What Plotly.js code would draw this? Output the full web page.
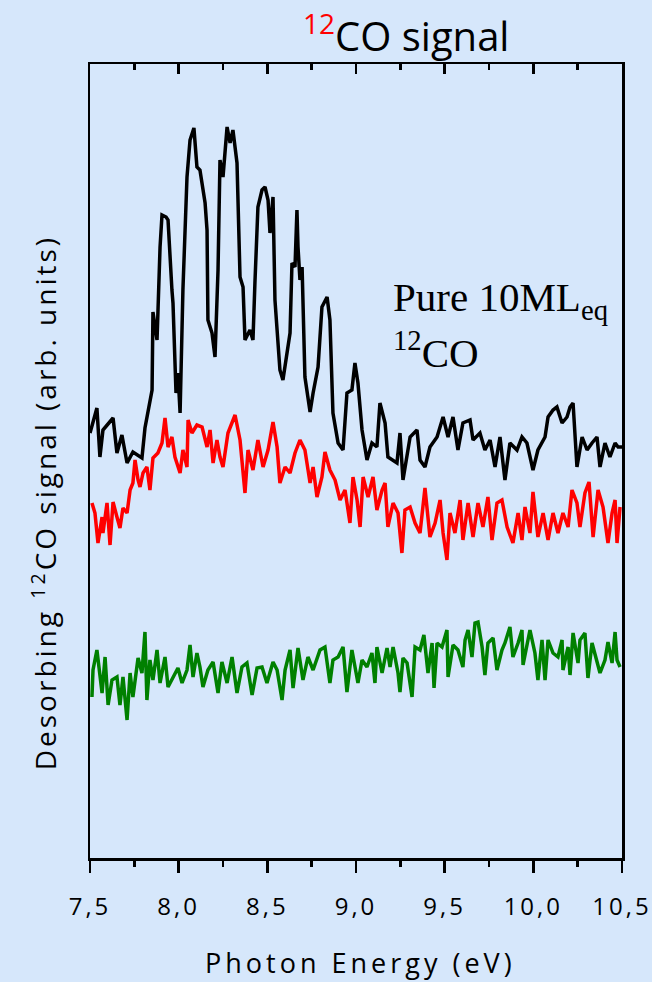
<!DOCTYPE html>
<html>
<head>
<meta charset="utf-8">
<script src="https://cdn.plot.ly/plotly-3.0.1.min.js"></script>
<style>
html,body{margin:0;padding:0;background:#d6e7fb;}
#chart{width:652px;height:982px;}
</style>
</head>
<body>
<div id="chart"></div>
<script>
// Photon energy (eV) and desorbing 12CO signal (arb. units)
const pureX = [7.500,7.539,7.556,7.573,7.630,7.652,7.680,7.709,7.742,7.793,7.810,7.850,7.855,7.878,7.895,7.906,7.929,7.940,7.962,7.968,7.985,7.996,8.008,8.024,8.047,8.064,8.086,8.103,8.120,8.149,8.160,8.165,8.188,8.205,8.222,8.233,8.250,8.273,8.290,8.306,8.329,8.335,8.346,8.363,8.374,8.402,8.419,8.430,8.447,8.470,8.487,8.504,8.515,8.532,8.543,8.555,8.571,8.588,8.611,8.628,8.639,8.656,8.667,8.673,8.684,8.696,8.712,8.741,8.758,8.786,8.808,8.837,8.853,8.870,8.899,8.927,8.949,8.977,8.994,9.011,9.034,9.062,9.090,9.118,9.135,9.164,9.180,9.231,9.248,9.265,9.305,9.344,9.361,9.389,9.417,9.457,9.491,9.519,9.547,9.575,9.603,9.643,9.660,9.699,9.727,9.756,9.784,9.812,9.840,9.868,9.908,9.936,9.964,9.998,10.026,10.066,10.083,10.111,10.133,10.162,10.190,10.207,10.224,10.246,10.275,10.303,10.331,10.359,10.376,10.404,10.432,10.461,10.478,10.500];
const pureY = [4.25,4.50,4.01,4.28,4.40,4.05,4.23,3.95,4.06,4.00,4.30,4.68,5.46,5.18,6.11,6.43,6.41,6.38,5.68,5.55,4.65,4.85,4.45,5.68,6.81,7.18,7.30,6.91,6.88,6.55,6.28,5.38,5.25,5.01,5.88,6.98,6.81,7.31,7.15,7.28,6.95,6.58,5.81,5.71,5.18,5.28,5.18,5.75,6.51,6.68,6.71,6.58,6.25,6.61,5.58,5.28,4.88,4.78,5.08,5.25,5.95,5.91,6.48,6.11,5.78,5.91,4.81,4.46,4.65,4.91,5.51,5.61,5.38,4.45,4.15,4.08,4.65,4.68,4.95,4.75,4.28,3.98,4.15,4.11,4.55,4.35,4.01,3.95,4.25,3.78,4.21,4.28,3.98,3.91,4.11,4.21,4.41,4.21,4.41,4.08,4.35,4.38,4.18,4.25,4.08,4.18,3.91,4.21,3.78,4.15,4.08,4.21,4.15,3.88,4.08,4.21,4.41,4.48,4.51,4.35,4.41,4.51,4.55,3.91,4.21,4.08,4.15,4.21,3.91,4.15,4.01,4.15,4.11,4.11];

const redX = [7.511,7.528,7.545,7.568,7.573,7.596,7.613,7.630,7.652,7.669,7.686,7.709,7.726,7.742,7.754,7.771,7.782,7.799,7.821,7.838,7.855,7.883,7.906,7.923,7.940,7.962,7.979,8.008,8.024,8.047,8.053,8.075,8.103,8.132,8.160,8.177,8.194,8.216,8.233,8.250,8.278,8.318,8.346,8.374,8.391,8.419,8.447,8.476,8.504,8.532,8.555,8.571,8.600,8.628,8.656,8.684,8.712,8.741,8.758,8.780,8.808,8.825,8.853,8.882,8.910,8.938,8.966,8.983,9.006,9.023,9.040,9.068,9.096,9.118,9.147,9.164,9.180,9.209,9.237,9.259,9.276,9.305,9.333,9.361,9.389,9.417,9.446,9.474,9.491,9.513,9.530,9.558,9.587,9.603,9.632,9.660,9.688,9.716,9.744,9.767,9.795,9.823,9.852,9.885,9.914,9.936,9.953,9.981,9.998,10.026,10.055,10.083,10.111,10.139,10.167,10.196,10.218,10.246,10.263,10.291,10.314,10.337,10.365,10.393,10.421,10.444,10.461,10.472,10.489];
const redY = [3.55,3.45,3.15,3.41,3.25,3.55,3.13,3.56,3.41,3.30,3.50,3.45,3.68,3.75,3.98,3.78,3.71,3.85,3.91,3.68,4.00,4.05,4.15,4.40,4.11,4.21,4.01,3.85,4.08,3.91,4.38,4.25,4.33,4.31,4.11,4.28,3.95,4.18,4.01,3.91,4.25,4.43,4.18,3.65,4.08,3.88,4.18,3.91,4.08,4.36,4.11,3.75,3.91,3.85,4.05,4.18,4.08,3.75,3.91,3.61,3.81,4.06,3.88,3.78,3.58,3.68,3.35,3.81,3.58,3.31,3.81,3.61,3.81,3.48,3.68,3.75,3.31,3.55,3.45,3.05,3.48,3.51,3.35,3.25,3.70,3.21,3.35,3.58,3.25,2.98,3.45,3.25,3.58,3.18,3.55,3.21,3.55,3.31,3.61,3.18,3.55,3.58,3.31,3.15,3.45,3.18,3.51,3.25,3.66,3.21,3.45,3.18,3.45,3.25,3.45,3.31,3.68,3.55,3.31,3.65,3.76,3.21,3.68,3.51,3.15,3.45,3.58,3.15,3.51];

const greenX = [7.511,7.517,7.539,7.556,7.568,7.585,7.602,7.624,7.652,7.669,7.686,7.709,7.726,7.742,7.771,7.793,7.810,7.821,7.838,7.855,7.878,7.895,7.923,7.940,7.968,7.996,8.019,8.047,8.064,8.081,8.103,8.120,8.137,8.165,8.194,8.222,8.244,8.273,8.301,8.329,8.357,8.385,8.414,8.442,8.470,8.498,8.532,8.555,8.583,8.600,8.628,8.645,8.673,8.701,8.729,8.758,8.797,8.825,8.853,8.870,8.899,8.927,8.949,8.977,9.011,9.034,9.062,9.090,9.107,9.118,9.147,9.175,9.192,9.209,9.237,9.248,9.265,9.288,9.316,9.333,9.361,9.383,9.406,9.429,9.440,9.457,9.485,9.513,9.519,9.547,9.575,9.603,9.615,9.632,9.654,9.671,9.688,9.711,9.727,9.744,9.773,9.795,9.823,9.840,9.868,9.885,9.914,9.936,9.942,9.964,9.981,10.009,10.026,10.049,10.066,10.083,10.111,10.139,10.162,10.167,10.196,10.207,10.224,10.252,10.263,10.291,10.308,10.331,10.359,10.376,10.404,10.421,10.444,10.461,10.472,10.489];
const greenY = [1.61,1.88,2.08,1.85,1.65,2.01,1.53,1.78,1.81,1.53,1.81,1.38,1.85,1.61,2.00,1.85,2.26,1.58,1.98,1.78,2.08,1.75,2.01,1.71,1.81,1.90,1.75,1.88,2.13,1.81,2.05,1.91,1.71,1.88,1.96,1.65,1.96,1.75,2.01,1.65,1.91,1.95,1.63,1.90,1.91,1.75,1.96,1.88,1.58,1.88,2.08,1.70,2.10,1.78,2.01,1.88,2.08,2.11,1.75,1.98,2.01,2.11,1.66,2.08,1.75,1.98,1.91,2.05,1.75,2.11,1.85,2.10,1.91,2.11,1.85,1.66,2.00,1.95,1.61,2.11,2.08,2.23,1.85,2.15,1.70,2.15,2.11,2.28,1.81,2.13,2.08,1.91,2.18,2.28,2.01,2.35,2.36,2.11,1.83,2.15,2.20,1.88,2.08,2.15,2.31,2.01,2.15,2.28,1.93,2.11,2.28,2.05,1.78,2.18,1.78,2.18,2.05,2.01,2.18,1.88,2.11,1.83,2.25,1.95,2.18,2.25,1.80,2.15,1.98,1.85,1.98,2.16,1.95,2.26,1.98,1.91];

const tickVals = [7.5,8.0,8.5,9.0,9.5,10.0,10.5];
const tickText = ["7,5","8,0","8,5","9,0","9,5","10,0","10,5"];

const BG = '#d6e7fb';
const FONT = 'Open Sans, Lato, sans-serif';
const SERIF = 'Liberation Serif, Times New Roman, serif';

const traces = [
  {x: pureX, y: pureY, type:'scatter', mode:'lines', line:{color:'#000000', width:3.5}, xaxis:'x', yaxis:'y', hoverinfo:'skip'},
  {x: redX, y: redY, type:'scatter', mode:'lines', line:{color:'#ff0000', width:3.5}, xaxis:'x', yaxis:'y', hoverinfo:'skip'},
  {x: greenX, y: greenY, type:'scatter', mode:'lines', line:{color:'#008000', width:3.5}, xaxis:'x2', yaxis:'y', hoverinfo:'skip'}
];

const layout = {
  width:652, height:982,
  margin:{l:90, r:30, t:64, b:124},
  paper_bgcolor:BG, plot_bgcolor:BG,
  showlegend:false,
  font:{family:FONT, color:'#000'},
  xaxis:{
    range:[7.5,10.5], tickmode:'array', tickvals:tickVals, ticktext:tickText,
    ticks:'outside', ticklen:12, tickwidth:2.5, tickcolor:'#000',
    minor:{tickmode:'linear', tick0:7.5, dtick:0.25, ticks:'outside', ticklen:6, tickwidth:2.5, tickcolor:'#000'},
    showline:true, linewidth:2.5, linecolor:'#000', mirror:true,
    showgrid:false, zeroline:false,
    tickfont:{family:FONT, size:24, color:'#000'},
    ticklabelstandoff:14
  },
  xaxis2:{
    overlaying:'x', side:'top', matches:'x', range:[7.5,10.5],
    tickmode:'array', tickvals:tickVals, showticklabels:false,
    ticks:'inside', ticklen:10, tickwidth:2.5, tickcolor:'#000',
    minor:{tickmode:'linear', tick0:7.5, dtick:0.25, ticks:'inside', ticklen:6, tickwidth:2.5, tickcolor:'#000'},
    showline:false, showgrid:false, zeroline:false
  },
  yaxis:{
    range:[0,7.94], showline:true, linewidth:2.5, linecolor:'#000', mirror:true,
    ticks:'', showticklabels:false, showgrid:false, zeroline:false
  },
  annotations:[
    {xref:'paper', yref:'paper', x:0.594, y:1.0385, xanchor:'center', yanchor:'middle', showarrow:false,
     text:'<span style="color:#ff0000"><sup>12</sup></span>CO signal', font:{family:FONT, size:40, color:'#000'}},
    {xref:'paper', yref:'paper', x:0.509, y:-0.131, xanchor:'center', yanchor:'middle', showarrow:false,
     text:'Photon Energy (eV)', font:{family:FONT, size:27, color:'#000'}},
    {xref:'paper', yref:'paper', x:-0.0865, y:0.448, xanchor:'center', yanchor:'middle', showarrow:false, textangle:-90,
     text:'Desorbing <sup>12</sup>CO signal (arb. units)', font:{family:FONT, size:28, color:'#000'}},
    {xref:'paper', yref:'paper', x:0.566, y:0.703, xanchor:'left', yanchor:'middle', showarrow:false,
     text:'Pure 10ML<sub>eq</sub>', font:{family:SERIF, size:41, color:'#000'}},
    {xref:'paper', yref:'paper', x:0.566, y:0.640, xanchor:'left', yanchor:'middle', showarrow:false,
     text:'<sup>12</sup>CO', font:{family:SERIF, size:41, color:'#000'}}
  ]
};

Plotly.newPlot('chart', traces, layout, {staticPlot:true, displayModeBar:false}).then(function(gd){
  // widen letter spacing of the axis texts, as in the reference typesetting
  gd.querySelectorAll('.annotation-text').forEach(function(t){
    const s = t.textContent;
    if (s.indexOf('Photon') === 0) t.style.letterSpacing = '4px';
    if (s.indexOf('Desorbing') === 0) t.style.letterSpacing = '3px';
  });
  gd.querySelectorAll('.xtick text').forEach(function(t){ t.style.letterSpacing = '3px'; });
});
</script>
</body>
</html>
